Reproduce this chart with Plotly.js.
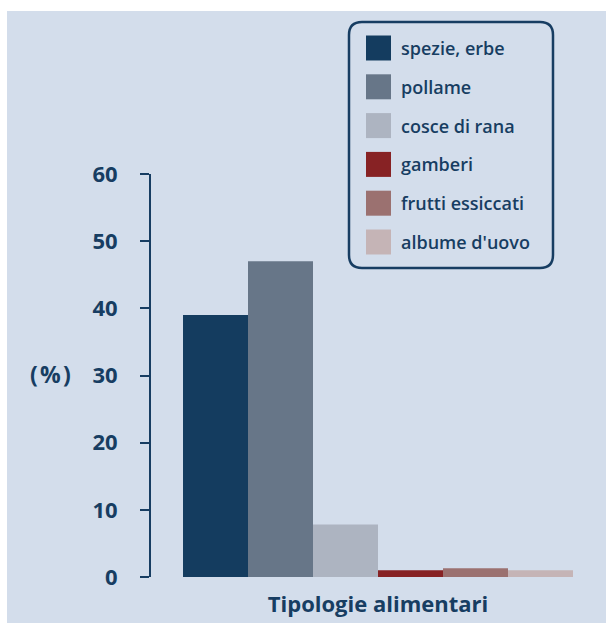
<!DOCTYPE html>
<html>
<head>
<meta charset="utf-8">
<script src="https://cdn.plot.ly/plotly-3.0.1.min.js"></script>
<style>
  html, body { margin: 0; padding: 0; background: #ffffff; }
  #chart { width: 606px; height: 623px; }
</style>
</head>
<body>
<div id="chart"></div>
<script>
// Categoria unica e serie (valori in %)
const categoria = ['Tipologie alimentari'];
const serieNomi = ['spezie, erbe', 'pollame', 'cosce di rana', 'gamberi', 'frutti essiccati', "albume d'uovo"];
const serieValori = [39, 47, 7.8, 1.0, 1.3, 1.0];
const serieColori = ['#143c5f', '#677688', '#adb4c1', '#872224', '#9b7170', '#c5b4b6'];
const yTicks = [0, 10, 20, 30, 40, 50, 60];

const navy = '#173d62';
const pannello = '#d3ddeb';
const font = 'Open Sans, Liberation Sans, sans-serif';

// geometry of the plotting area, in pixels
const W = 606, H = 623;
const mL = 151, mR = 1, mT = 174, mB = 46;
const pw = W - mL - mR, ph = H - mT - mB;
const px = x => (x - mL) / pw;            // pixel -> paper x
const py = y => (H - mB - y) / ph;        // pixel -> paper y

const traces = serieNomi.map((nome, i) => ({
  type: 'bar',
  name: nome,
  x: categoria,
  y: [serieValori[i]],
  marker: { color: serieColori[i], line: { width: 0 } },
  hoverinfo: 'name+y'
}));

// background panel
const shapes = [{
  type: 'rect', xref: 'paper', yref: 'paper', layer: 'below',
  x0: px(7), x1: px(W + 2), y0: py(H + 2), y1: py(11),
  fillcolor: pannello, line: { width: 0 }
}];

// legend frame with rounded corners
const bx0 = 349, bx1 = 553, by0 = 22, by1 = 268, r = 13;
const P = (x, y) => px(x).toFixed(5) + ',' + py(y).toFixed(5);
shapes.push({
  type: 'path', xref: 'paper', yref: 'paper', layer: 'above',
  path: 'M' + P(bx0 + r, by0) + ' L' + P(bx1 - r, by0) +
        ' Q' + P(bx1, by0) + ' ' + P(bx1, by0 + r) +
        ' L' + P(bx1, by1 - r) +
        ' Q' + P(bx1, by1) + ' ' + P(bx1 - r, by1) +
        ' L' + P(bx0 + r, by1) +
        ' Q' + P(bx0, by1) + ' ' + P(bx0, by1 - r) +
        ' L' + P(bx0, by0 + r) +
        ' Q' + P(bx0, by0) + ' ' + P(bx0 + r, by0) + ' Z',
  fillcolor: 'rgba(0,0,0,0)', line: { color: navy, width: 2.5 }
});

const annotations = [];
const rowY0 = 48, rowStep = 38.8, sw = 25;
serieNomi.forEach((nome, i) => {
  const cy = rowY0 + i * rowStep;
  shapes.push({
    type: 'rect', xref: 'paper', yref: 'paper',
    x0: px(366), x1: px(366 + sw), y0: py(cy + sw / 2), y1: py(cy - sw / 2),
    fillcolor: serieColori[i], line: { width: 0 }
  });
  annotations.push({
    xref: 'paper', yref: 'paper', x: px(399), y: py(cy),
    xanchor: 'left', yanchor: 'middle', showarrow: false,
    text: nome, font: { family: font, size: 18, weight: 600, color: navy }
  });
});

// unit label beside the y axis
annotations.push({
  xref: 'paper', yref: 'paper', x: px(50), y: py(374),
  xanchor: 'center', yanchor: 'middle', showarrow: false,
  text: '(\u200A%\u200A)', font: { family: font, size: 23, weight: 700, color: navy }
});

const layout = {
  width: W, height: H,
  margin: { l: mL, r: mR, t: mT, b: mB, pad: 0 },
  paper_bgcolor: '#ffffff',
  plot_bgcolor: 'rgba(0,0,0,0)',
  showlegend: false,
  barmode: 'group',
  bargap: 0.141,
  bargroupgap: 0,
  xaxis: {
    type: 'category', range: [-0.5, 0.5],
    showline: false, showgrid: false, zeroline: false, ticks: '',
    ticklabelstandoff: 12,
    tickfont: { family: font, size: 22, weight: 700, color: navy }
  },
  yaxis: {
    range: [0, 60], tickvals: yTicks, ticktext: yTicks.map(String),
    showgrid: false, zeroline: false,
    showline: true, linecolor: navy, linewidth: 2,
    ticks: 'outside', ticklen: 9, tickwidth: 2, tickcolor: navy,
    ticklabelstandoff: 18,
    tickfont: { family: font, size: 22, weight: 700, color: navy }
  },
  shapes: shapes,
  annotations: annotations
};

Plotly.newPlot('chart', traces, layout, { displayModeBar: false, staticPlot: true });
</script>
</body>
</html>
